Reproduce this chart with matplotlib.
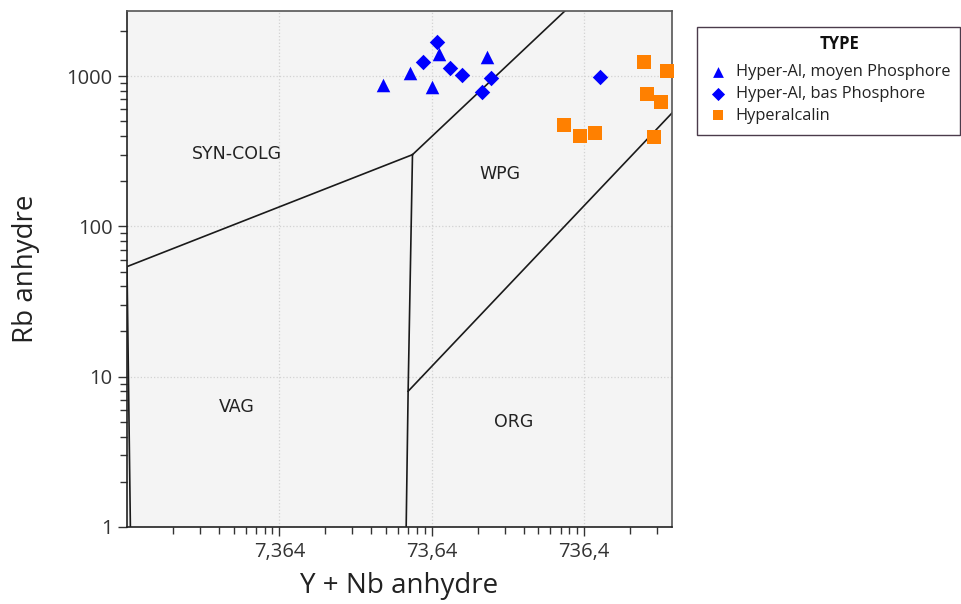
import numpy as np
import matplotlib
matplotlib.use("Agg")
import matplotlib.pyplot as plt
from matplotlib.ticker import FixedLocator, NullFormatter
from matplotlib.patches import Rectangle

plt.rcParams['font.family'] = ['Open Sans', 'DejaVu Sans']

# ---- data ----
tri_x = [35.4, 52.9, 73.5, 82.5, 170]
tri_y = [873, 1053, 850, 1403, 1334]

dia_x = [79.3, 64.7, 96.9, 116.7, 179, 156.5, 935]
dia_y = [1686, 1241, 1127, 1017, 967, 787, 991]

sq_x = [1817, 2585, 1893, 2340, 543, 691, 863, 2114]
sq_y = [1236, 1081, 760, 669, 473, 399, 416, 392]

# Pearce et al. (1984) discrimination boundaries (Y+Nb, Rb)
line_colg_vag_x = [0.7364, 55]
line_colg_vag_y = [54, 300]
line_left_x = [0.7364, 0.775]
line_left_y = [54, 1]
line_vag_wpg_x = [55, 51.5, 50]
line_vag_wpg_y = [300, 8, 1]
line_colg_wpg_x = [55, 400, 1000]
line_colg_wpg_y = [300, 2000, 4800]
line_wpg_org_x = [51.5, 2000, 4000]
line_wpg_org_y = [8, 400, 840]

region_names = ['SYN-COLG', 'WPG', 'VAG', 'ORG']
region_x = [3.88, 206, 3.84, 255]
region_y = [303, 223, 6.29, 5.0]

series_labels = ['Hyper-Al, moyen Phosphore', 'Hyper-Al, bas Phosphore', 'Hyperalcalin']
legend_title = 'TYPE'

xtick_vals = [7.364, 73.64, 736.4]
xtick_labels = ['7,364', '73,64', '736,4']
ytick_vals = [1, 10, 100, 1000]
ytick_labels = ['1', '10', '100', '1000']

xlim = (0.7364, 2775)
ylim = (1, 2710)

W, H = 961, 604

# ---- figure ----
fig = plt.figure(figsize=(W/100, H/100), dpi=100)
ax = fig.add_axes([127/W, 77/H, 545/W, 516/H])
ax.set_facecolor('#F4F4F4')
ax.set_xscale('log')
ax.set_yscale('log')
ax.set_xlim(*xlim)
ax.set_ylim(*ylim)

ax.grid(True, which='major', color='#D2D2D2', linestyle=':', linewidth=0.9)
ax.set_axisbelow(True)

lc = '#1a1a1a'
lw = 1.2
for xs, ys in [(line_colg_vag_x, line_colg_vag_y), (line_left_x, line_left_y),
               (line_vag_wpg_x, line_vag_wpg_y), (line_colg_wpg_x, line_colg_wpg_y),
               (line_wpg_org_x, line_wpg_org_y)]:
    ax.plot(xs, ys, color=lc, lw=lw, zorder=2)

for n, x, y in zip(region_names, region_x, region_y):
    ax.text(x, y, n, ha='center', va='center', fontsize=12.5, color='#222222',
            family=['DejaVu Sans'])

h1 = ax.scatter(tri_x, tri_y, marker='^', s=95, color='#0000FF', zorder=3,
                label=series_labels[0], linewidths=0)
h2 = ax.scatter(dia_x, dia_y, marker='D', s=62, color='#0000FF', zorder=3,
                label=series_labels[1], linewidths=0)
h3 = ax.scatter(sq_x, sq_y, marker='s', s=88, color='#FF8000', zorder=3,
                label=series_labels[2], linewidths=0, clip_on=False)

ax.xaxis.set_major_locator(FixedLocator(xtick_vals))
ax.set_xticklabels(xtick_labels)
minor_x = [k * 0.7364 * 10**e for e in range(0, 4) for k in range(2, 10)]
ax.xaxis.set_minor_locator(FixedLocator(minor_x))
ax.xaxis.set_minor_formatter(NullFormatter())

ax.yaxis.set_major_locator(FixedLocator(ytick_vals))
ax.set_yticklabels(ytick_labels)
minor_y = [k * 10**e for e in range(0, 4) for k in range(2, 10)]
ax.yaxis.set_minor_locator(FixedLocator(minor_y))
ax.yaxis.set_minor_formatter(NullFormatter())

ax.tick_params(axis='both', which='major', direction='out', length=6.5, width=1,
               color='#333333', labelsize=14.5, labelcolor='#333333', pad=4)
ax.tick_params(axis='both', which='minor', direction='out', length=5, width=1,
               color='#333333')
for sp in ax.spines.values():
    sp.set_color('#555555')
    sp.set_linewidth(1.2)
ax.spines['left'].set_color('#222222')
ax.spines['bottom'].set_color('#222222')

ax.set_xlabel('Y + Nb anhydre', fontsize=20, color='#222222')
ax.set_ylabel('Rb anhydre', fontsize=20, color='#222222')
ax.xaxis.set_label_coords(0.5, -0.088)
ax.yaxis.set_label_coords(-0.16, 0.5)

# legend: frame + title + entries
fig.add_artist(Rectangle((697/W, 1 - 135/H), 263/W, 108/H, transform=fig.transFigure,
                         fill=True, facecolor='white', edgecolor='#4B3B4B', lw=1.0,
                         zorder=4))
fig.text(840/W, 1 - 44/H, legend_title, ha='center', va='center', fontsize=12,
         fontweight='bold', color='#111111', zorder=5)
leg = fig.legend(handles=[h1, h2, h3], labels=series_labels,
                 loc='upper left', bbox_to_anchor=(708/W, 1 - 64/H),
                 bbox_transform=fig.transFigure, borderaxespad=0, borderpad=0,
                 fontsize=11.8, frameon=False, handletextpad=0.48,
                 handlelength=1.2, labelspacing=0.36)
leg.set_zorder(6)
for h, sz in zip(leg.legend_handles, [60, 45, 60]):
    h.set_sizes([sz])
for t in leg.get_texts():
    t.set_color('#222222')

fig.savefig('out.png', dpi=100)
